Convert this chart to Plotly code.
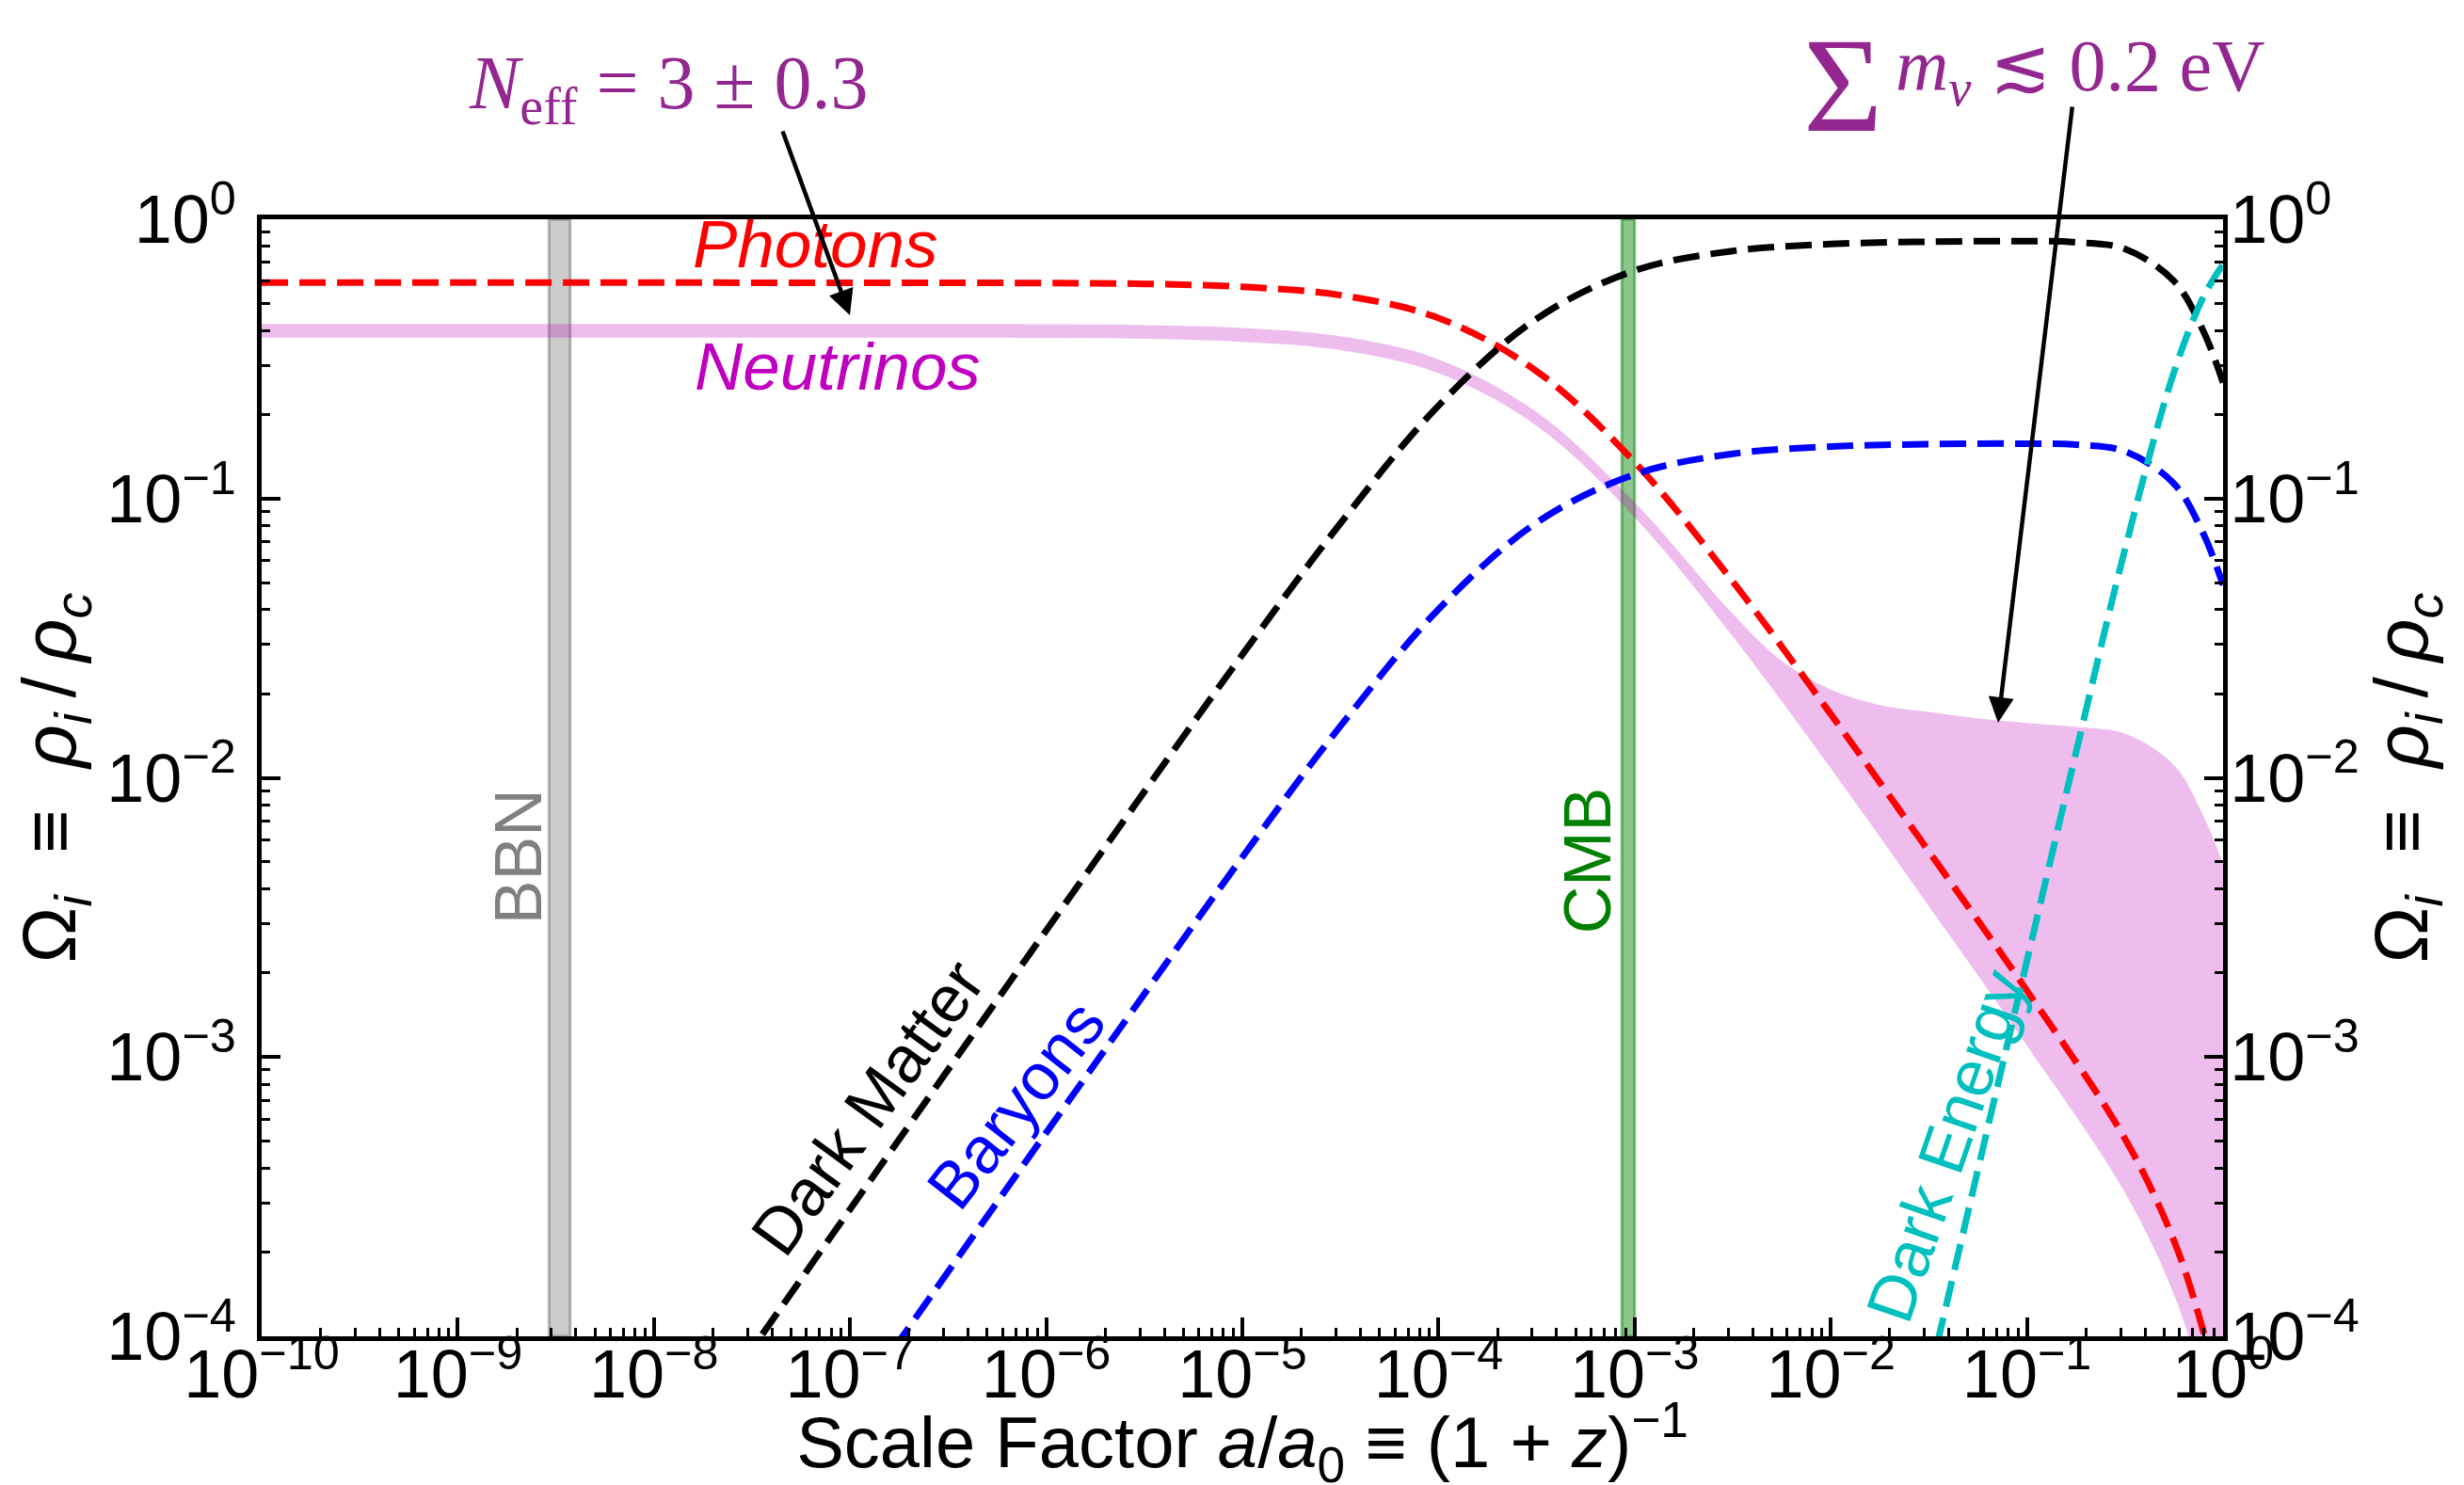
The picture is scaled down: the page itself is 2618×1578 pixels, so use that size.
import plotly.graph_objects as go

# ---------------- data ----------------
# radiation-era grid (scale factor a/a0)
a_rad = [1e-10, 1e-8, 1e-6, 3.16e-6, 1e-5, 3.16e-5, 1e-4, 3.16e-4, 1e-3, 3.16e-3,
         1e-2, 3.16e-2, 1e-1, 3.16e-1, 5.62e-1, 7.94e-1, 1.0]
omega_photons = [0.593, 0.593, 0.591, 0.587, 0.573, 0.535, 0.443, 0.286, 0.135, 0.0505,
                 0.0169, 0.00545, 0.00173, 5.1e-4, 2.2e-4, 1.04e-4, 5.4e-5]
omega_nu_low = [0.377, 0.377, 0.376, 0.373, 0.364, 0.340, 0.281, 0.182, 0.0857, 0.0321,
                0.0108, 0.00347, 0.0011, 3.27e-4, 1.41e-4, 6.6e-5, 3.4e-5]

a_nu_high = [1e-10, 1e-8, 1e-6, 3.16e-6, 1e-5, 3.16e-5, 1e-4, 3.16e-4, 1e-3, 3.16e-3,
             5.62e-3, 1e-2, 1.78e-2, 3.16e-2, 5.62e-2, 1e-1, 1.78e-1, 3.16e-1, 5.62e-1,
             7.94e-1, 1.0]
omega_nu_high = [0.422, 0.422, 0.421, 0.418, 0.408, 0.381, 0.315, 0.204, 0.097, 0.0387,
                 0.0262, 0.0207, 0.0182, 0.0172, 0.0163, 0.0157, 0.0152, 0.0144, 0.0111,
                 0.0073, 0.0049]

a_dm = [1e-8, 3.16e-8, 1e-7, 1e-6, 1e-5, 3.16e-5, 1e-4, 3.16e-4, 1e-3, 3.16e-3, 1e-2,
        3.16e-2, 1e-1, 1.78e-1, 3.16e-1, 5.62e-1, 7.94e-1, 1.0]
omega_dm = [2.85e-5, 9.0e-5, 2.85e-4, 2.84e-3, 0.0276, 0.0814, 0.215, 0.44, 0.655, 0.77,
            0.815, 0.831, 0.835, 0.827, 0.783, 0.601, 0.397, 0.26]

a_baryons = [1e-7, 1e-6, 1e-5, 3.16e-5, 1e-4, 3.16e-4, 1e-3, 3.16e-3, 1e-2, 3.16e-2,
             1e-1, 1.78e-1, 3.16e-1, 5.62e-1, 7.94e-1, 1.0]
omega_baryons = [5.4e-5, 5.36e-4, 5.2e-3, 0.0153, 0.0401, 0.0819, 0.122, 0.1446, 0.1535,
                 0.1565, 0.1572, 0.1558, 0.1475, 0.113, 0.0747, 0.049]

a_de = [3.16e-2, 5.62e-2, 1e-1, 1.78e-1, 3.16e-1, 5.62e-1, 7.94e-1, 1.0]
omega_de = [6.97e-5, 3.94e-4, 2.21e-3, 0.01234, 0.0657, 0.2835, 0.527, 0.69]

bbn_a = [2.92e-9, 3.74e-9]
cmb_a = [8.6e-4, 1.0e-3]
y_span = [1e-4, 1.0]

x_tick_vals = [1e-10, 1e-9, 1e-8, 1e-7, 1e-6, 1e-5, 1e-4, 1e-3, 1e-2, 1e-1, 1.0]
x_tick_text = ["10<sup>−10</sup>", "10<sup>−9</sup>", "10<sup>−8</sup>", "10<sup>−7</sup>",
               "10<sup>−6</sup>", "10<sup>−5</sup>", "10<sup>−4</sup>", "10<sup>−3</sup>",
               "10<sup>−2</sup>", "10<sup>−1</sup>", "10<sup>0</sup>"]
y_tick_vals = [1e-4, 1e-3, 1e-2, 1e-1, 1.0]
y_tick_text = ["10<sup>−4</sup>", "10<sup>−3</sup>", "10<sup>−2</sup>", "10<sup>−1</sup>",
               "10<sup>0</sup>"]

x_minor = [m * v for v in x_tick_vals[:-1] for m in range(2, 10)]
y_minor = [m * v for v in y_tick_vals[:-1] for m in range(2, 10)]

# ---------------- styles ----------------
SANS = "Liberation Sans, Arial, Helvetica, sans-serif"
SERIF = "Liberation Serif, Times New Roman, DejaVu Serif, serif"
PURPLE = "#93278F"
DASH = "28px,12px"
LW = 7

fig = go.Figure()


def band(xr, fill, edge):
    fig.add_trace(go.Scatter(
        x=[xr[0], xr[0], xr[1], xr[1], xr[0]],
        y=[y_span[0], y_span[1], y_span[1], y_span[0], y_span[0]],
        mode="lines", fill="toself", fillcolor=fill,
        line=dict(color=edge, width=3), hoverinfo="skip", showlegend=False))


band(bbn_a, "rgba(128,128,128,0.40)", "rgba(100,100,100,0.45)")
band(cmb_a, "rgba(0,128,0,0.45)", "rgba(0,120,0,0.45)")

# neutrino band
fig.add_trace(go.Scatter(x=a_rad, y=omega_nu_low, mode="lines",
                         line=dict(width=0, shape="spline"), hoverinfo="skip",
                         showlegend=False))
fig.add_trace(go.Scatter(x=a_nu_high, y=omega_nu_high, mode="lines", fill="tonexty",
                         fillcolor="rgba(191,0,191,0.26)",
                         line=dict(width=0, shape="spline"), name="Neutrinos",
                         showlegend=False))


def dashed(x, y, color, name):
    fig.add_trace(go.Scatter(x=x, y=y, mode="lines", name=name, showlegend=False,
                             line=dict(color=color, width=LW, dash=DASH, shape="spline")))


dashed(a_rad, omega_photons, "#FF0000", "Photons")
dashed(a_dm, omega_dm, "#000000", "Dark Matter")
dashed(a_baryons, omega_baryons, "#0000FF", "Baryons")
dashed(a_de, omega_de, "rgb(0,191,191)", "Dark Energy")

# ---------------- annotations ----------------
ann = []


def label(x, y, text, color, angle=0, size=70, family=SANS, ref="data"):
    r = ("x", "y") if ref == "data" else ("paper", "paper")
    ann.append(dict(x=x, y=y, xref=r[0], yref=r[1], text=text, showarrow=False,
                    textangle=angle, xanchor="center", yanchor="middle",
                    font=dict(family=family, size=size, color=color)))


label(-7.176, -0.088, "<i>Photons</i>", "#FF0000", size=71)
label(-7.063, -0.529, "<i>Neutrinos</i>", "rgb(191,0,191)", size=71)
label(-8.69, -2.282, "BBN", "#808080", angle=-90)
label(-3.238, -2.295, "CMB", "#008000", angle=-90)
label(-6.91, -3.18, "Dark Matter", "#000000", angle=-54)
label(-6.155, -3.17, "Baryons", "#0000FF", angle=-52)
label(-1.41, -3.32, "Dark Energy", "rgb(0,191,191)", angle=-71)

label(0.2073, 1.117, "<i>N</i><sub>eff</sub> = 3 ± 0.3", PURPLE, size=80, family=SERIF,
      ref="paper")
label(0.806, 1.1205, "Σ", PURPLE, size=145, family=SERIF, ref="paper")
label(0.9273, 1.133, "<i>m</i><sub><i>ν</i></sub> ≲ 0.2 eV", PURPLE, size=78,
      family=SERIF, ref="paper")

# arrows
ann.append(dict(x=-7.001, y=-0.344, xref="x", yref="y", text="", showarrow=True,
                ax=-72, ay=-197, arrowhead=2, arrowsize=1.2, arrowwidth=4.5,
                arrowcolor="black", standoff=0, startstandoff=0))
ann.append(dict(x=-1.147, y=-1.803, xref="x", yref="y", text="", showarrow=True,
                ax=79, ay=-656, arrowhead=2, arrowsize=1.2, arrowwidth=4.5,
                arrowcolor="black", standoff=0, startstandoff=0))

tickfont = dict(family=SANS, size=72, color="black")
title_font = dict(family=SANS, size=80, color="black")
ytitle = ("Ω<sub><i>i</i></sub>\u00a0\u00a0≡\u00a0\u00a0<i>ρ</i><sub><i>i</i></sub>"
          "\u2009/\u2009<i>ρ</i><sub><i>c</i></sub>")

common_axis = dict(showgrid=False, zeroline=False, showline=True, linecolor="black",
                   linewidth=4.5, ticks="inside", ticklen=20, tickwidth=3.5,
                   tickcolor="black", tickfont=tickfont)

fig.update_layout(
    width=2618, height=1578,
    margin=dict(l=270, r=264, t=225, b=166, autoexpand=False),
    paper_bgcolor="white", plot_bgcolor="white",
    showlegend=False, hovermode=False,
    font=dict(family=SANS, color="black"),
    xaxis=dict(type="log", range=[-10, 0], tickmode="array", tickvals=x_tick_vals,
               ticktext=x_tick_text, mirror=True, ticklabelstandoff=-26,
               minor=dict(tickmode="array", tickvals=x_minor, ticks="inside", ticklen=9,
                          tickwidth=3, tickcolor="black", showgrid=False),
               title=dict(text="Scale Factor <i>a</i>/<i>a</i><sub>0</sub> ≡ (1 + <i>z</i>)<sup>−1</sup>",
                          font=dict(family=SANS, size=76, color="black"), standoff=30),
               **common_axis),
    yaxis=dict(type="log", range=[-4, 0], tickmode="array", tickvals=y_tick_vals,
               ticktext=y_tick_text, ticklabelstandoff=8,
               minor=dict(tickmode="array", tickvals=y_minor, ticks="inside", ticklen=9,
                          tickwidth=3, tickcolor="black", showgrid=False),
               title=dict(text=ytitle, font=title_font, standoff=18),
               **common_axis),
    yaxis2=dict(type="log", range=[-4, 0], tickmode="array", tickvals=y_tick_vals,
                ticktext=y_tick_text, overlaying="y", side="right", anchor="x",
                ticklabelstandoff=-12,
                minor=dict(tickmode="array", tickvals=y_minor, ticks="inside", ticklen=9,
                           tickwidth=3, tickcolor="black", showgrid=False),
                title=dict(text=ytitle, font=title_font, standoff=14),
                **common_axis),
    annotations=ann,
)

# invisible point so that the right-hand axis is drawn
fig.add_trace(go.Scatter(x=[1e-10], y=[1.0], yaxis="y2", mode="markers",
                         marker=dict(opacity=0), hoverinfo="skip", showlegend=False))

fig.write_html("out.html")
